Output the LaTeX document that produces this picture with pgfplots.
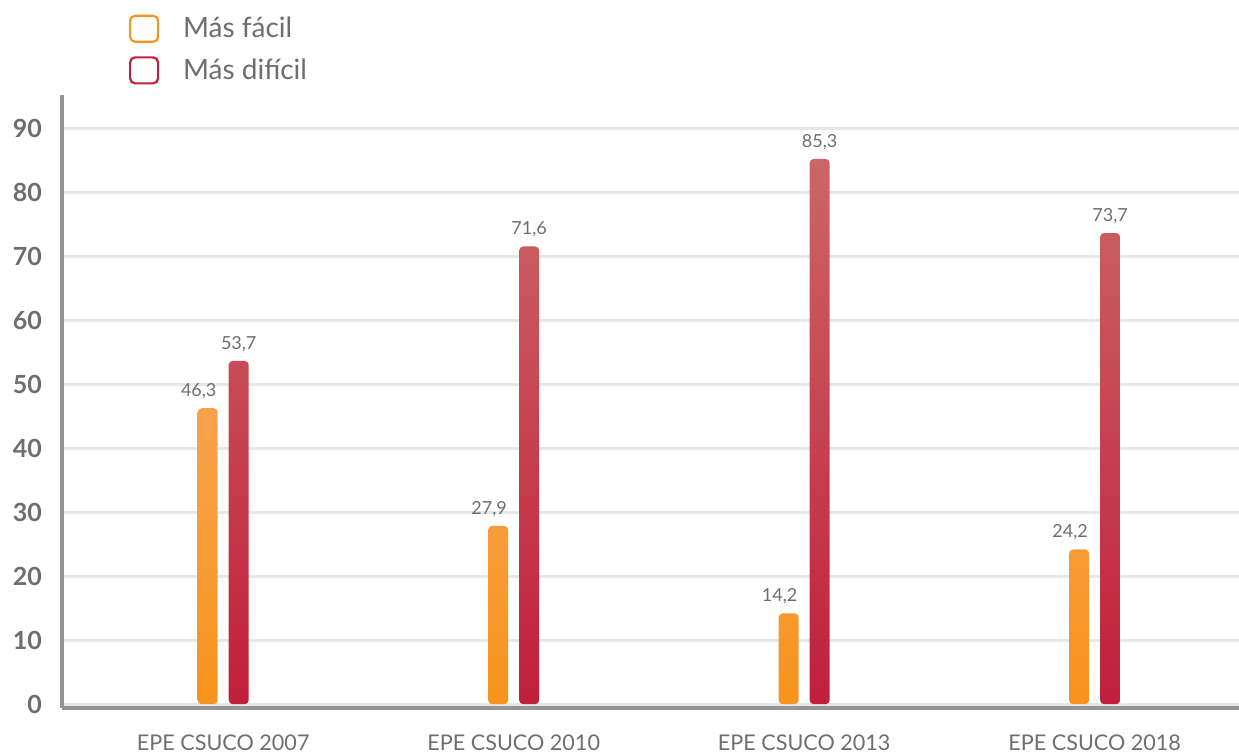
\documentclass[border=0pt]{standalone}
\usepackage{pgfplots}
\pgfplotsset{compat=1.18}
\usepackage{fontspec}
\setmainfont{Lato}
\definecolor{orT}{HTML}{F9A24D}
\definecolor{orB}{HTML}{F7941D}
\definecolor{rdT}{HTML}{CB6666}
\definecolor{rdB}{HTML}{C11F3B}
\definecolor{axgray}{HTML}{939598}
\definecolor{txgray}{HTML}{6D6E71}
\definecolor{grid}{HTML}{E6E7E8}
\begin{document}
\begin{tikzpicture}
\begin{axis}[
  name=ax,
  scale only axis,
  width=588.5pt, height=306.5pt,
  xmin=-0.555, xmax=3.497,
  ymin=-0.6, ymax=95.3,
  axis x line=bottom, axis y line=left,
  axis line style={draw=axgray, line width=2pt, -},
  ytick={0,10,...,90},
  xtick={0,1,2,3},
  xticklabels={EPE CSUCO 2007,EPE CSUCO 2010,EPE CSUCO 2013,EPE CSUCO 2018},
  major tick length=0pt,
  ymajorgrids,
  grid style={draw=grid, line width=1.5pt},
  yticklabel style={font=\fontsize{12.5}{14}\selectfont\bfseries, text=txgray, anchor=east, xshift=-6.5pt},
  xticklabel style={font=\fontsize{10.8}{12}\selectfont, text=txgray, yshift=-10pt},
  /pgf/number format/assume math mode=true,
  ybar, bar width=10pt,
  nodes near coords,
  every node near coord/.append style={font=\fontsize{9}{10}\selectfont, text=txgray, yshift=1pt,
     /pgf/number format/fixed, /pgf/number format/fixed zerofill, /pgf/number format/precision=1,
     /pgf/number format/use comma, /pgf/number format/assume math mode=true},
  legend style={at={(0.0515,1.141)}, anchor=north west, draw=none, fill=none,
     font=\fontsize{14}{16}\selectfont, text=txgray, row sep=5pt,
     legend cell align=left},
]
\addlegendimage{legend image code/.code={\draw[rounded corners=2.5pt, line width=1.1pt, draw=orB, fill=none] (0pt,-6.5pt) rectangle (14pt,6.5pt); \path[draw=none, fill=none] (14pt,0) -- (24.5pt,0);}}
\addlegendentry{Más fácil}
\addlegendimage{legend image code/.code={\draw[rounded corners=2.5pt, line width=1.1pt, draw=rdB, fill=none] (0pt,-6.5pt) rectangle (14pt,6.5pt); \path[draw=none, fill=none] (14pt,0) -- (24.5pt,0);}}
\addlegendentry{Más difícil}
\addplot[forget plot, bar shift=-7.75pt, draw=none, top color=orT, bottom color=orB, rounded corners=2pt,
  every node near coord/.append style={/tikz/xshift=-4.5pt}]
  coordinates {(0,46.3) (1,27.9) (2,14.2) (3,24.2)};
\addplot[forget plot, bar shift=7.75pt, draw=none, top color=rdT, bottom color=rdB, rounded corners=2pt]
  coordinates {(0,53.7) (1,71.6) (2,85.3) (3,73.7)};
\end{axis}
\pgfresetboundingbox
\path[use as bounding box] ([xshift=-31pt,yshift=-22.5pt]ax.south west) rectangle ([yshift=47.5pt]ax.north east);
\end{tikzpicture}
\end{document}
